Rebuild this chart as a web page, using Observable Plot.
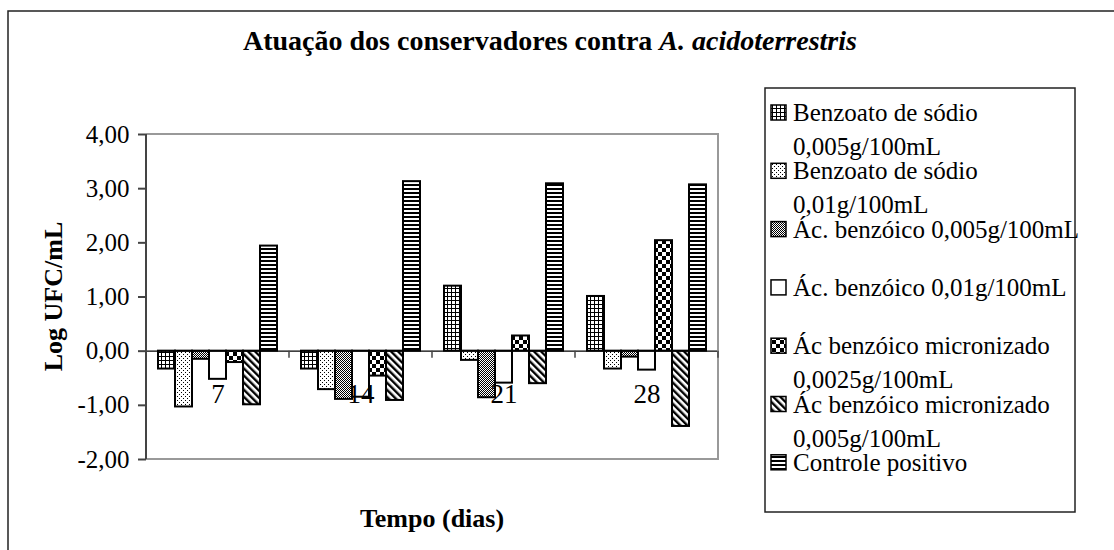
<!DOCTYPE html>
<html><head><meta charset="utf-8">
<script src="https://cdn.jsdelivr.net/npm/d3@7"></script>
<script src="https://cdn.jsdelivr.net/npm/@observablehq/plot@0.6"></script>
<style>
body{margin:0;background:#fff;}
#chart svg{font-family:"Liberation Serif","Times New Roman",serif;}
</style></head><body><div id="chart"></div>
<script>
// ---- data ----
const days = ["7", "14", "21", "28"];
const seriesNames = [
  "Benzoato de sódio 0,005g/100mL",
  "Benzoato de sódio 0,01g/100mL",
  "Ác. benzóico 0,005g/100mL",
  "Ác. benzóico 0,01g/100mL",
  "Ác benzóico micronizado 0,0025g/100mL",
  "Ác benzóico micronizado 0,005g/100mL",
  "Controle positivo"
];
const legendLines = [
  ["Benzoato de sódio", "0,005g/100mL"],
  ["Benzoato de sódio", "0,01g/100mL"],
  ["Ác. benzóico 0,005g/100mL"],
  ["Ác. benzóico 0,01g/100mL"],
  ["Ác benzóico micronizado", "0,0025g/100mL"],
  ["Ác benzóico micronizado", "0,005g/100mL"],
  ["Controle positivo"]
];
const benzoato005 = [-0.33, -0.33, 1.20, 1.01];
const benzoato01 = [-1.03, -0.71, -0.17, -0.33];
const benzoico005 = [-0.15, -0.89, -0.86, -0.11];
const benzoico01 = [-0.52, -0.85, -0.59, -0.35];
const micro0025 = [-0.21, -0.46, 0.28, 2.04];
const micro005 = [-0.99, -0.91, -0.60, -1.39];
const controle = [1.94, 3.13, 3.09, 3.07];
const seriesValues = [benzoato005, benzoato01, benzoico005, benzoico01, micro0025, micro005, controle];
const yTicks = [-2, -1, 0, 1, 2, 3, 4];
const titleMain = "Atuação dos conservadores contra ";
const titleItalic = "A. acidoterrestris";
const yLabel = "Log UFC/mL";
const xLabel = "Tempo (dias)";

const data = [];
seriesNames.forEach((s, j) => days.forEach((d, i) => data.push({day: d, series: s, value: seriesValues[j][i], pat: `url(#pat${j})`})));

const fmt = d => d.toFixed(2).replace(".", ",");

const plot = Plot.plot({
  width: 1114, height: 550,
  marginLeft: 145, marginRight: 396, marginTop: 134, marginBottom: 91,
  style: {fontFamily: "'Liberation Serif','Times New Roman',serif", fontSize: "25px", background: "white", color: "black", overflow: "visible"},
  fx: {domain: days, padding: 0, axis: null, label: null},
  x: {domain: seriesNames, paddingInner: 0, paddingOuter: 0.7, axis: null},
  y: {domain: [-2, 4], axis: null},
  color: {type: "identity"},
  marks: [
    Plot.axisY({ticks: yTicks, tickFormat: fmt, tickSize: 8, tickPadding: 9, fontSize: 25, stroke: "#444", strokeWidth: 2, label: null}),
    Plot.barY(data, {fx: "day", x: "series", y: "value", fill: "pat", stroke: "black", strokeWidth: 2}),
    Plot.ruleY([0], {stroke: "black", strokeWidth: 1.2}),
    Plot.text(days, {fx: d => d, text: d => d, y: 0, dy: 43, fontSize: 27})
  ]
});
document.getElementById("chart").appendChild(plot);

// ---- patterns ----
const svg = d3.select(plot);
const defs = svg.insert("defs", ":first-child");
function pat(id, w, h, rects, transform) {
  const p = defs.append("pattern").attr("id", id).attr("patternUnits", "userSpaceOnUse")
    .attr("width", w).attr("height", h);
  if (transform) p.attr("patternTransform", transform);
  p.append("rect").attr("width", w).attr("height", h).attr("fill", "white");
  rects.forEach(r => p.append("rect").attr("x", r[0]).attr("y", r[1]).attr("width", r[2]).attr("height", r[3]).attr("fill", "black"));
}
pat("pat0", 4, 4, [[0, 0, 4, 1], [0, 0, 1, 4]]);
pat("pat1", 4, 4, [[0, 0, 1, 1], [2, 2, 1, 1]]);
pat("pat2", 2, 2, [[0, 0, 1, 1], [1, 1, 1, 1]]);
pat("pat3", 4, 4, []);
pat("pat4", 8, 8, [[0, 0, 4, 4], [4, 4, 4, 4]]);
pat("pat5", 5, 5, [[0, 0, 2.4, 5]], "rotate(-45)");
pat("pat6", 4, 4, [[0, 0, 4, 2]]);

// ---- frame, axis line and category ticks from the scales ----
const ys = plot.scale("y"), fxs = plot.scale("fx");
const x0 = fxs.apply(days[0]), x1 = fxs.apply(days[days.length - 1]) + fxs.bandwidth;
const yTop = ys.apply(4), yBot = ys.apply(-2), yZero = ys.apply(0);
const g = svg.append("g");
g.append("path").attr("d", `M${x0},${yTop}H${x1}V${yBot}H${x0}`).attr("fill", "none").attr("stroke", "#999").attr("stroke-width", 2);
g.append("line").attr("x1", x0).attr("x2", x0).attr("y1", yTop).attr("y2", yBot).attr("stroke", "#444").attr("stroke-width", 2);
days.forEach((d, i) => {
  const xs = i === 0 ? [] : [fxs.apply(d)];
  if (i === days.length - 1) xs.push(x1);
  xs.forEach(xx => g.append("line").attr("x1", xx).attr("x2", xx).attr("y1", yZero).attr("y2", yZero + 7).attr("stroke", "#444").attr("stroke-width", 1.5));
});

// ---- outer border ----
svg.append("path").attr("d", "M8,560V11H1120").attr("fill", "none").attr("stroke", "#222").attr("stroke-width", 1.5);

// ---- title & axis labels ----
const t = svg.append("text").attr("x", 243).attr("y", 50).attr("text-anchor", "start").attr("font-size", 28).attr("font-weight", "bold").attr("fill", "black");
t.append("tspan").text(titleMain);
t.append("tspan").attr("font-style", "italic").text(titleItalic);
svg.append("text").attr("transform", `translate(62,${(yTop + yBot) / 2}) rotate(-90)`).attr("text-anchor", "middle")
  .attr("font-size", 26).attr("font-weight", "bold").text(yLabel);
svg.append("text").attr("x", (x0 + x1) / 2).attr("y", 527).attr("text-anchor", "middle")
  .attr("font-size", 26).attr("font-weight", "bold").text(xLabel);

// ---- legend ----
const lg = svg.append("g").attr("font-size", 25).attr("text-anchor", "start");
lg.append("rect").attr("x", 765).attr("y", 88).attr("width", 310).attr("height", 424).attr("fill", "white").attr("stroke", "#222").attr("stroke-width", 1.5);
legendLines.forEach((lines, i) => {
  const base = 121 + i * 58.3;
  lg.append("rect").attr("x", 771).attr("y", base - 16).attr("width", 15).attr("height", 15)
    .attr("fill", `url(#pat${i})`).attr("stroke", "black").attr("stroke-width", 1.5);
  lines.forEach((txt, k) => lg.append("text").attr("x", 793).attr("y", base + k * 34).attr("text-anchor", "start").text(txt));
});
</script></body></html>
